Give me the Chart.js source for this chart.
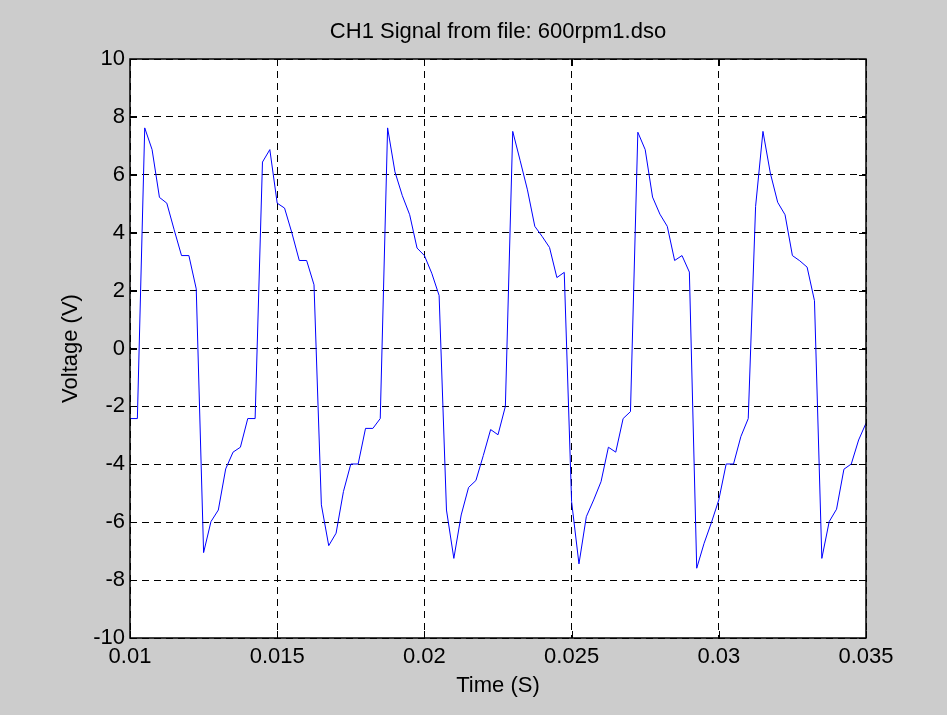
<!DOCTYPE html>
<html>
<head>
<meta charset="utf-8">
<script src="https://cdn.jsdelivr.net/npm/chart.js@4.4.1/dist/chart.umd.min.js"></script>
<style>
  html, body { margin: 0; padding: 0; background: #cccccc; }
  #wrap { width: 947px; height: 715px; }
</style>
</head>
<body>
<div id="wrap"><canvas id="scope" width="947" height="715"></canvas></div>
<script>
// sample times (s), DSO sampling every 0.25 ms
var timeS = [
  0.01, 0.01025, 0.0105, 0.01075, 0.011, 0.01125, 0.0115, 0.01175, 0.012, 0.01225,
  0.0125, 0.01275, 0.013, 0.01325, 0.0135, 0.01375, 0.014, 0.01425, 0.0145, 0.01475,
  0.015, 0.01525, 0.0155, 0.01575, 0.016, 0.01625, 0.0165, 0.01675, 0.017, 0.01725,
  0.0175, 0.01775, 0.018, 0.01825, 0.0185, 0.01875, 0.019, 0.01925, 0.0195, 0.01975,
  0.02, 0.02025, 0.0205, 0.02075, 0.021, 0.02125, 0.0215, 0.02175, 0.022, 0.02225,
  0.0225, 0.02275, 0.023, 0.02325, 0.0235, 0.02375, 0.024, 0.02425, 0.0245, 0.02475,
  0.025, 0.02525, 0.0255, 0.02575, 0.026, 0.02625, 0.0265, 0.02675, 0.027, 0.02725,
  0.0275, 0.02775, 0.028, 0.02825, 0.0285, 0.02875, 0.029, 0.02925, 0.0295, 0.02975,
  0.03, 0.03025, 0.0305, 0.03075, 0.031, 0.03125, 0.0315, 0.03175, 0.032, 0.03225,
  0.0325, 0.03275, 0.033, 0.03325, 0.0335, 0.03375, 0.034, 0.03425, 0.0345, 0.03475,
  0.035
];

// CH1 voltage (V)
var ch1Volts = [
  -2.42, -2.42, 7.62, 6.87, 5.22, 5.02, 4.10, 3.21, 3.21, 2.06,
  -7.05, -5.98, -5.58, -4.16, -3.58, -3.41, -2.42, -2.42, 6.44, 6.87,
  5.02, 4.85, 3.99, 3.04, 3.04, 2.20, -5.40, -6.81, -6.38, -4.94,
  -3.99, -3.99, -2.76, -2.76, -2.42, 7.62, 6.10, 5.28, 4.62, 3.47,
  3.21, 2.60, 1.83, -5.58, -7.25, -5.75, -4.80, -4.56, -3.70, -2.80,
  -2.98, -2.00, 7.50, 6.50, 5.48, 4.22, 3.87, 3.49, 2.45, 2.63,
  -5.29, -7.44, -5.81, -5.23, -4.60, -3.41, -3.58, -2.42, -2.18, 7.47,
  6.87, 5.23, 4.64, 4.22, 3.04, 3.21, 2.64, -7.59, -6.73, -6.01,
  -5.23, -3.99, -3.99, -3.04, -2.42, 4.91, 7.50, 6.06, 5.05, 4.62,
  3.21, 3.03, 2.81, 1.65, -7.25, -5.98, -5.55, -4.17, -3.99, -3.16,
  -2.58
];

var xTicks = [0.01, 0.015, 0.02, 0.025, 0.03, 0.035];
var yTicks = [-10, -8, -6, -4, -2, 0, 2, 4, 6, 8, 10];

var points = [];
for (var i = 0; i < timeS.length; i++) {
  points.push({x: timeS[i], y: ch1Volts[i]});
}

// grey figure, white axes, box and inward ticks like matlab
var matlabFrame = {
  id: 'matlabFrame',
  beforeDraw: function(chart) {
    var c = chart.ctx, a = chart.chartArea;
    c.save();
    c.fillStyle = '#cccccc';
    c.fillRect(0, 0, chart.width, chart.height);
    c.fillStyle = '#ffffff';
    c.fillRect(a.left, a.top, a.right - a.left, a.bottom - a.top);
    c.restore();
  },
  afterDraw: function(chart) {
    var c = chart.ctx, a = chart.chartArea;
    var xs = chart.scales.x, ys = chart.scales.y;
    var len = 7;
    c.save();
    c.strokeStyle = '#000000';
    c.lineWidth = 1;
    c.beginPath();
    xTicks.forEach(function(v) {
      var px = Math.round(xs.getPixelForValue(v)) + 0.5;
      c.moveTo(px, a.bottom); c.lineTo(px, a.bottom - len);
      c.moveTo(px, a.top); c.lineTo(px, a.top + len);
    });
    yTicks.forEach(function(v) {
      var py = Math.round(ys.getPixelForValue(v)) + 0.5;
      c.moveTo(a.left, py); c.lineTo(a.left + len, py);
      c.moveTo(a.right, py); c.lineTo(a.right - len, py);
    });
    c.stroke();
    c.lineWidth = 1.5;
    c.strokeRect(a.left, a.top, a.right - a.left, a.bottom - a.top);
    c.restore();
  }
};

var tickFont = {family: 'Liberation Sans, Arial, sans-serif', size: 22};

var ctx = document.getElementById('scope').getContext('2d');
var scope = new Chart(ctx, {
  type: 'line',
  data: {
    datasets: [{
      label: 'CH1',
      data: points,
      borderColor: '#0000ff',
      borderWidth: 1,
      pointRadius: 0,
      tension: 0,
      fill: false
    }]
  },
  options: {
    responsive: false,
    animation: false,
    layout: {padding: {top: 0, right: 81, bottom: 0, left: 0}},
    scales: {
      x: {
        type: 'linear',
        min: 0.01,
        max: 0.035,
        afterFit: function(s) { s.height = 77; },
        afterBuildTicks: function(s) { s.ticks = xTicks.map(function(v) { return {value: v}; }); },
        ticks: {
          color: '#000000',
          font: tickFont,
          padding: 6,
          maxRotation: 0,
          callback: function(v) { return String(Number(v.toFixed(4))); }
        },
        grid: {color: '#000000', lineWidth: 1, drawTicks: false},
        border: {display: false, dash: [7, 5]},
        title: {display: true, text: 'Time (S)', color: '#000000', font: tickFont, padding: {top: 0, bottom: 16}}
      },
      y: {
        min: -10,
        max: 10,
        afterFit: function(s) { s.width = 130; },
        afterBuildTicks: function(s) { s.ticks = yTicks.map(function(v) { return {value: v}; }); },
        ticks: {color: '#000000', font: tickFont, padding: 5},
        grid: {color: '#000000', lineWidth: 1, drawTicks: false},
        border: {display: false, dash: [7, 5]},
        title: {display: true, text: 'Voltage (V)', color: '#000000', font: tickFont, padding: {top: 58, bottom: 0}}
      }
    },
    plugins: {
      legend: {display: false},
      tooltip: {enabled: false},
      title: {
        display: true,
        fullSize: false,
        text: 'CH1 Signal from file: 600rpm1.dso',
        color: '#000000',
        font: {family: 'Liberation Sans, Arial, sans-serif', size: 22, weight: 'normal'},
        padding: {top: 19, bottom: 13.6}
      }
    }
  },
  plugins: [matlabFrame]
});
</script>
</body>
</html>
